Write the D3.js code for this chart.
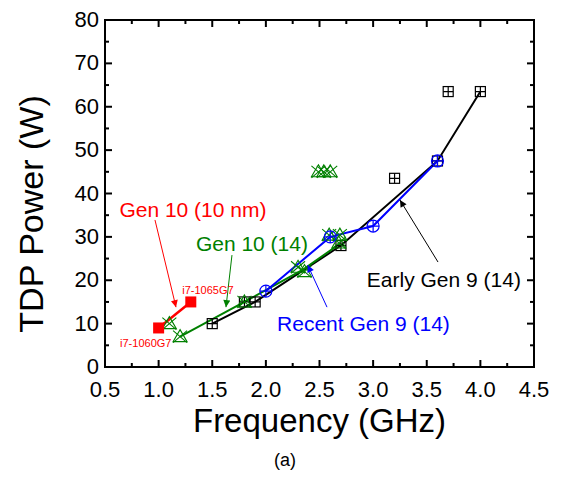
<!DOCTYPE html>
<html>
<head>
<meta charset="utf-8">
<script src="https://cdn.jsdelivr.net/npm/d3@7"></script>
<style>
  body { margin: 0; background: #fff; }
  text { font-family: "Liberation Sans", Arial, sans-serif; }
</style>
</head>
<body>
<script>
// ---- data ----
var earlyF = [1.5, 1.8, 1.9, 2.7, 3.2, 3.6, 3.7, 4.0];
var earlyP = [10, 15, 15, 28, 43.5, 47.5, 63.5, 63.5];
var earlyLineF = [1.5, 1.9, 2.7, 3.6, 4.0];
var earlyLineP = [10, 15, 28, 47.5, 63.5];

var recentF = [2.0, 2.6, 3.0, 3.6];
var recentP = [17.5, 30, 32.5, 47.5];

var gen10F = [1.1, 1.2, 1.8, 2.3, 2.36, 2.49, 2.54, 2.6, 2.59, 2.69, 2.68];
var gen10P = [10, 7, 15, 23, 22, 45, 45, 45, 30.4, 30.4, 28.6];
var gen10LineF = [1.2, 1.8, 2.35, 2.7];
var gen10LineP = [7, 15, 22.5, 28.6];

var nmF = [1.0, 1.3];
var nmP = [9, 15];

var xTicks = [0.5, 1.0, 1.5, 2.0, 2.5, 3.0, 3.5, 4.0, 4.5];
var yTicks = [0, 10, 20, 30, 40, 50, 60, 70, 80];

var W = 565, H = 477;
var svg = d3.select("body").append("svg").attr("width", W).attr("height", H);

var x = d3.scaleLinear().domain([0.5, 4.5]).range([105, 534]);
var y = d3.scaleLinear().domain([0, 80]).range([367, 20]);

function pts(fs, ps) { return fs.map(function (f, i) { return [f, ps[i]]; }); }

// arrowheads
var defs = svg.append("defs");
["red", "green", "blue", "black"].forEach(function (c) {
  defs.append("marker").attr("id", "ah-" + c)
      .attr("viewBox", "0 0 10 10").attr("refX", 10).attr("refY", 5)
      .attr("markerWidth", 9).attr("markerHeight", 7)
      .attr("markerUnits", "userSpaceOnUse")
      .attr("orient", "auto")
    .append("path").attr("d", "M0,0 L10,5 L0,10 z").attr("fill", c);
});

// ---- axes (box, ticks inward) ----
var xMinor = d3.range(0.75, 4.5, 0.5);
var yMinor = d3.range(5, 80, 10);
var axes = svg.append("g").attr("stroke", "#000");
axes.append("rect").attr("x", x(0.5)).attr("y", y(80))
    .attr("width", x(4.5) - x(0.5)).attr("height", y(0) - y(80))
    .attr("fill", "none").attr("stroke-width", 2);
xTicks.forEach(function (t) {
  axes.append("line").attr("x1", x(t)).attr("x2", x(t)).attr("y1", y(0)).attr("y2", y(0) - 7).attr("stroke-width", 2);
  axes.append("line").attr("x1", x(t)).attr("x2", x(t)).attr("y1", y(80)).attr("y2", y(80) + 7).attr("stroke-width", 2);
});
xMinor.forEach(function (t) {
  axes.append("line").attr("x1", x(t)).attr("x2", x(t)).attr("y1", y(0)).attr("y2", y(0) - 4).attr("stroke-width", 2);
  axes.append("line").attr("x1", x(t)).attr("x2", x(t)).attr("y1", y(80)).attr("y2", y(80) + 4).attr("stroke-width", 2);
});
yTicks.forEach(function (t) {
  axes.append("line").attr("x1", x(0.5)).attr("x2", x(0.5) + 7).attr("y1", y(t)).attr("y2", y(t)).attr("stroke-width", 2);
  axes.append("line").attr("x1", x(4.5)).attr("x2", x(4.5) - 7).attr("y1", y(t)).attr("y2", y(t)).attr("stroke-width", 2);
});
yMinor.forEach(function (t) {
  axes.append("line").attr("x1", x(0.5)).attr("x2", x(0.5) + 4).attr("y1", y(t)).attr("y2", y(t)).attr("stroke-width", 2);
  axes.append("line").attr("x1", x(4.5)).attr("x2", x(4.5) - 4).attr("y1", y(t)).attr("y2", y(t)).attr("stroke-width", 2);
});

svg.selectAll("text.xt").data(xTicks).enter().append("text")
    .attr("x", function (d) { return x(d); }).attr("y", y(0) + 30)
    .attr("text-anchor", "middle").attr("font-size", 22)
    .text(function (d) { return d.toFixed(1); });
svg.selectAll("text.yt").data(yTicks).enter().append("text")
    .attr("x", x(0.5) - 6).attr("y", function (d) { return y(d) + 7; })
    .attr("text-anchor", "end").attr("font-size", 22)
    .text(function (d) { return d; });

svg.append("text").attr("x", (x(0.5) + x(4.5)) / 2).attr("y", 432)
    .attr("text-anchor", "middle").attr("font-size", 33).text("Frequency (GHz)");
svg.append("text").attr("transform", "translate(43,214) rotate(-90)")
    .attr("text-anchor", "middle").attr("font-size", 34).text("TDP Power (W)");
svg.append("text").attr("x", 285).attr("y", 466)
    .attr("text-anchor", "middle").attr("font-size", 18).text("(a)");

// ---- lines ----
var line = d3.line().x(function (d) { return x(d[0]); }).y(function (d) { return y(d[1]); });
svg.append("path").datum(pts(earlyLineF, earlyLineP)).attr("d", line)
    .attr("fill", "none").attr("stroke", "#000").attr("stroke-width", 2);
svg.append("path").datum(pts(gen10LineF, gen10LineP)).attr("d", line)
    .attr("fill", "none").attr("stroke", "#008000").attr("stroke-width", 2);
svg.append("path").datum(pts(recentF, recentP)).attr("d", line)
    .attr("fill", "none").attr("stroke", "#0000ff").attr("stroke-width", 2);
svg.append("path").datum(pts(nmF, nmP)).attr("d", line)
    .attr("fill", "none").attr("stroke", "#ff0000").attr("stroke-width", 2.5);

// ---- markers ----
var early = svg.selectAll("g.early").data(pts(earlyF, earlyP)).enter().append("g")
    .attr("transform", function (d) { return "translate(" + x(d[0]) + "," + y(d[1]) + ")"; })
    .attr("stroke", "#000").attr("stroke-width", 1.2).attr("fill", "none");
early.append("rect").attr("x", -5).attr("y", -5).attr("width", 10).attr("height", 10);
early.append("path").attr("d", "M0,-5V5M-5,0H5");

var gen10 = svg.selectAll("g.gen10").data(pts(gen10F, gen10P)).enter().append("g")
    .attr("transform", function (d) { return "translate(" + x(d[0]) + "," + y(d[1]) + ")"; })
    .attr("stroke", "#008000").attr("stroke-width", 1.1).attr("fill", "none");
gen10.append("path").attr("d", "M0,-7L7,5H-7Z");
gen10.append("path").attr("d", "M-7,-6L7,6M7,-6L-7,6");

var recent = svg.selectAll("g.recent").data(pts(recentF, recentP)).enter().append("g")
    .attr("transform", function (d) { return "translate(" + x(d[0]) + "," + y(d[1]) + ")"; })
    .attr("stroke", "#0000ff").attr("stroke-width", 1.2).attr("fill", "none");
recent.append("circle").attr("r", 6);
recent.append("path").attr("d", "M0,-6V6M-6,0H6");

svg.selectAll("rect.nm").data(pts(nmF, nmP)).enter().append("rect")
    .attr("x", function (d) { return x(d[0]) - 5.5; })
    .attr("y", function (d) { return y(d[1]) - 5.5; })
    .attr("width", 11).attr("height", 11).attr("fill", "#ff0000");

// ---- annotations (data coordinates) ----
var notes = [
  { t: "Gen 10 (10 nm)", c: "red", tx: 1.32, ty: 36.4, fs: 21, a: [0.966, 33.9, 1.162, 13.8] },
  { t: "Gen 10 (14)", c: "green", tx: 1.87, ty: 28.6, fs: 21, a: [1.684, 25.8, 1.628, 13.8] },
  { t: "Recent Gen 9 (14)", c: "blue", tx: 2.91, ty: 10.1, fs: 21, a: [2.57, 13.8, 2.39, 23.5] },
  { t: "Early Gen 9 (14)", c: "black", tx: 3.66, ty: 20.3, fs: 21, a: [3.605, 24.2, 3.25, 38.5] },
  { t: "i7-1065G7", c: "red", tx: 1.46, ty: 17.75, fs: 11, a: null },
  { t: "i7-1060G7", c: "red", tx: 0.88, ty: 5.5, fs: 11, a: null }
];
var col = { red: "#ff0000", green: "#008000", blue: "#0000ff", black: "#000" };
notes.forEach(function (n) {
  svg.append("text").attr("x", x(n.tx)).attr("y", y(n.ty)).attr("dy", "0.36em")
      .attr("text-anchor", "middle").attr("font-size", n.fs).attr("fill", col[n.c]).text(n.t);
  if (n.a) {
    svg.append("line").attr("x1", x(n.a[0])).attr("y1", y(n.a[1]))
        .attr("x2", x(n.a[2])).attr("y2", y(n.a[3]))
        .attr("stroke", col[n.c]).attr("stroke-width", 1)
        .attr("marker-end", "url(#ah-" + n.c + ")");
  }
});
</script>
</body>
</html>
